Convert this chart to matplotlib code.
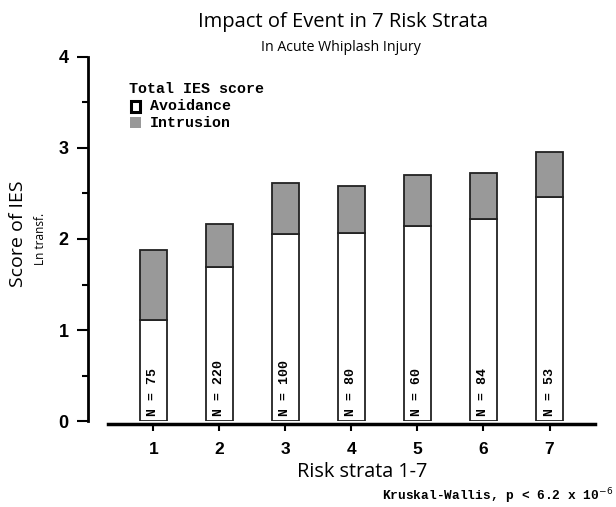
import matplotlib
matplotlib.use("Agg")
import matplotlib.pyplot as plt
from matplotlib.patches import Rectangle

strata = [1, 2, 3, 4, 5, 6, 7]
avoidance = [1.11, 1.69, 2.05, 2.07, 2.14, 2.22, 2.46]
total = [1.88, 2.17, 2.61, 2.58, 2.70, 2.73, 2.96]
n_values = [75, 220, 100, 80, 60, 84, 53]
intrusion = [t - a for t, a in zip(total, avoidance)]

fig = plt.figure(figsize=(6.16, 5.07), dpi=100)
ax = fig.add_axes([0.143, 0.1696, 0.823, 0.718])

ax.bar(strata, avoidance, width=0.41, color="white", edgecolor="#222222", linewidth=1.3, zorder=3)
ax.bar(strata, intrusion, bottom=avoidance, width=0.41, color="#999999", edgecolor="#222222", linewidth=1.3, zorder=3)

for x, n in zip(strata, n_values):
    ax.text(x, 0.06, f"N = {n}", rotation=90, ha="center", va="bottom",
            family="Liberation Mono", fontweight="bold", fontsize=9.5, zorder=4)

ax.set_xlim(0.011, 7.69)
ax.set_ylim(0, 4)
for s in ["top", "right"]:
    ax.spines[s].set_visible(False)
ax.spines["left"].set_linewidth(2)
ax.spines["bottom"].set_linewidth(2.5)
ax.spines["bottom"].set_bounds(0.314, 7.69)
ax.spines["bottom"].set_position(("outward", 2))

ax.set_yticks([0, 1, 2, 3, 4])
ax.set_yticks([0.5, 1.5, 2.5, 3.5], minor=True)
ax.set_xticks(strata)
ax.tick_params(axis="y", which="major", length=8, width=1.5, labelsize=13, pad=6)
ax.tick_params(axis="y", which="minor", length=4, width=1.5)
ax.tick_params(axis="x", length=5, width=1.5, labelsize=12.5, pad=8)
for lab in ax.get_xticklabels() + ax.get_yticklabels():
    lab.set_fontweight("bold")
    lab.set_family("Liberation Sans")

fig.text(0.557, 0.957, "Impact of Event in 7 Risk Strata", ha="center", va="center",
         family="Open Sans", fontsize=14.5)
fig.text(0.553, 0.907, "In Acute Whiplash Injury", ha="center", va="center",
         family="Open Sans", fontsize=10.2)
fig.text(0.588, 0.069, "Risk strata 1-7", ha="center", va="center",
         family="Open Sans", fontsize=14.3)
fig.text(0.030, 0.538, "Score of IES", rotation=90, ha="center", va="center",
         family="Open Sans", fontsize=14)
fig.text(0.065, 0.529, "Ln transf.", rotation=90, ha="center", va="center",
         family="Open Sans", fontsize=8.5)
fig.text(0.995, 0.022, r"Kruskal-Wallis, p < 6.2 x 10$^{-6}$", ha="right", va="center",
         family="Liberation Mono", fontweight="bold", fontsize=9.3)

# legend
fig.text(0.209, 0.824, "Total IES score", ha="left", va="center",
         family="Liberation Mono", fontweight="bold", fontsize=10.8)
fig.patches.append(Rectangle((0.212, 0.780), 0.016, 0.020, facecolor="white",
                             edgecolor="black", linewidth=2.2, transform=fig.transFigure, figure=fig))
fig.patches.append(Rectangle((0.211, 0.747), 0.018, 0.022, facecolor="#999999",
                             edgecolor="none", transform=fig.transFigure, figure=fig))
fig.text(0.243, 0.791, "Avoidance", ha="left", va="center",
         family="Liberation Mono", fontweight="bold", fontsize=10.8)
fig.text(0.243, 0.757, "Intrusion", ha="left", va="center",
         family="Liberation Mono", fontweight="bold", fontsize=10.8)

fig.savefig("out.png", dpi=100)
